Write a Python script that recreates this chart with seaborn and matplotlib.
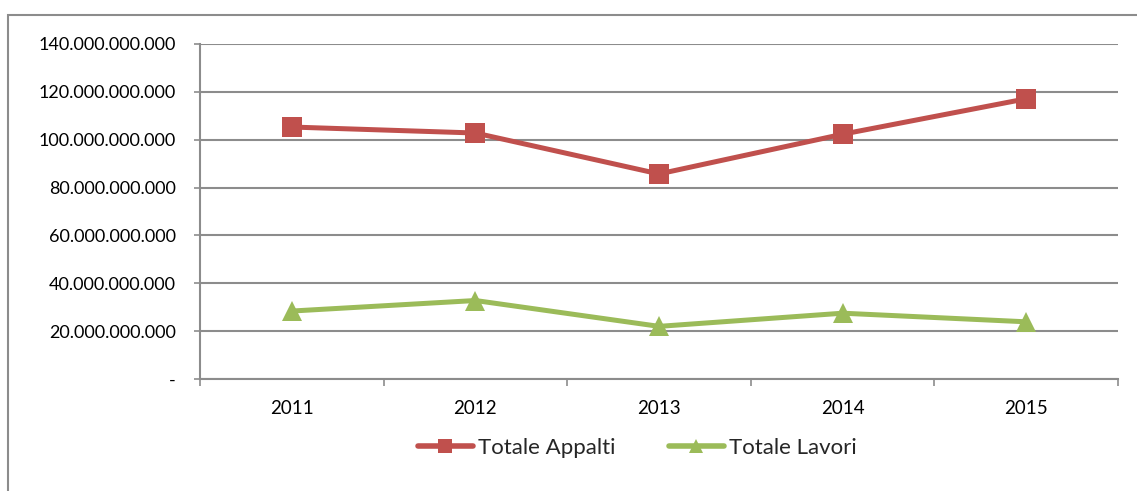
import matplotlib
matplotlib.use("Agg")
import matplotlib.pyplot as plt
import seaborn as sns
import pandas as pd
import numpy as np
from matplotlib.ticker import FuncFormatter, FixedLocator, MultipleLocator
from matplotlib.patches import Rectangle

years = ["2011", "2012", "2013", "2014", "2015"]
totale_appalti = [105.3e9, 102.8e9, 85.7e9, 102.3e9, 117.1e9]
totale_lavori = [28.4e9, 32.8e9, 22.0e9, 27.5e9, 23.9e9]
series_names = ["Totale Appalti", "Totale Lavori"]
colors = ["#C0504D", "#9BBB59"]

sns.set_theme(style="white")
plt.rcParams["font.family"] = ["Lato", "DejaVu Sans"]

df = pd.DataFrame({
    "pos": list(range(len(years))) * 2,
    "value": totale_appalti + totale_lavori,
    "series": [series_names[0]] * len(years) + [series_names[1]] * len(years),
})

fig = plt.figure(figsize=(11.37, 4.91), dpi=100)
ax = fig.add_axes([200 / 1137, (491 - 379) / 491, (1118 - 200) / 1137, (379 - 44) / 491])

sns.lineplot(data=df, x="pos", y="value", hue="series", style="series",
             markers=["s", "^"], dashes=False, palette=colors, linewidth=3.6,
             markersize=14, markeredgewidth=0, ax=ax, legend=True)

ax.set_xlim(-0.5, len(years) - 0.5)
ax.set_ylim(0, 140e9)
ax.yaxis.set_major_locator(MultipleLocator(20e9))

def fmt(v, p):
    if abs(v) < 1:
        return "-"
    return f"{int(round(v)):,}".replace(",", ".")

ax.yaxis.set_major_formatter(FuncFormatter(fmt))
ax.set_xticks(range(len(years)))
ax.set_xticklabels(years)
ax.xaxis.set_minor_locator(FixedLocator(np.arange(-0.5, len(years), 1.0)))
ax.set_xlabel("")
ax.set_ylabel("")

gridc = "#8C8C8C"
ax.grid(axis="y", color=gridc, linewidth=1.5)
ax.grid(axis="x", visible=False)
for s in ["top", "right"]:
    ax.spines[s].set_visible(False)
for s in ["left", "bottom"]:
    ax.spines[s].set_color(gridc)
    ax.spines[s].set_linewidth(1.5)

ax.tick_params(axis="y", which="major", left=True, length=4.5, width=1.2, color=gridc,
               pad=13, labelsize=13, labelcolor="black")
ax.tick_params(axis="x", which="major", bottom=False, length=0, pad=15, labelsize=13.5,
               labelcolor="black")
ax.tick_params(axis="x", which="minor", bottom=True, length=5, width=1.2, color=gridc)

ax.get_legend().remove()
handles, labels = ax.get_legend_handles_labels()
for h in handles:
    h.set_linewidth(4.0)
fig.legend(handles, labels, loc="center", bbox_to_anchor=(637 / 1137, 1 - 448 / 491),
           ncol=2, frameon=False, fontsize=16, handlelength=2.5, handletextpad=0.2,
           columnspacing=2.4, markerscale=0.75)

fig.patches.append(Rectangle((8 / 1137, -0.2), 1.2, 1.2 - 15 / 491,
                             transform=fig.transFigure, fill=False,
                             edgecolor="#8C8C8C", linewidth=1.5))

fig.savefig("out.png", dpi=100)
